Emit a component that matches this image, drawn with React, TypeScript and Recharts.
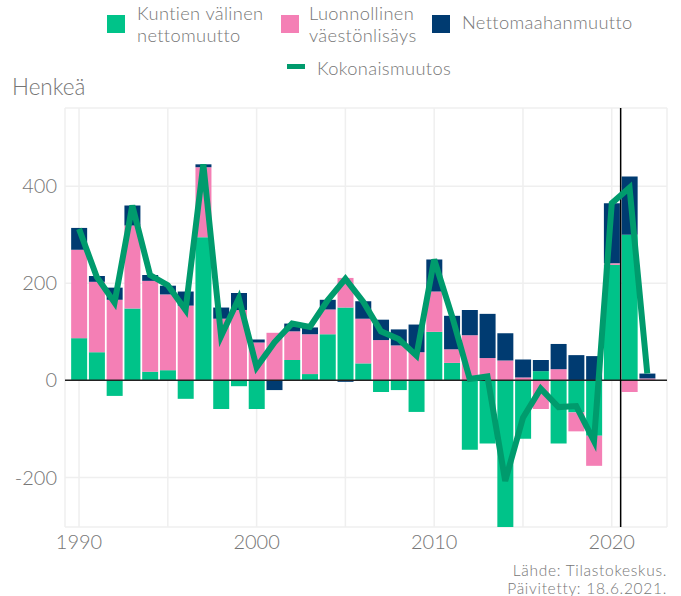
import React from 'react';
import {
  ComposedChart, Bar, Line, XAxis, YAxis, CartesianGrid, ReferenceLine,
} from 'recharts';

const years = [1990, 1991, 1992, 1993, 1994, 1995, 1996, 1997, 1998, 1999, 2000, 2001, 2002, 2003, 2004, 2005, 2006, 2007, 2008, 2009, 2010, 2011, 2012, 2013, 2014, 2015, 2016, 2017, 2018, 2019, 2020, 2021, 2022];

const kuntienValinen = [87, 58, -32, 148, 18, 21, -38, 295, -59, -12, -59, 0, 42, 13, 95, 150, 35, -24, -20, -65, 100, 36, -143, -130, -305, -120, 19, -130, -66, -114, 238, 300, 1];

const luonnollinen = [182, 145, 166, 171, 187, 156, 154, 144, 127, 145, 78, 98, 59, 82, 51, 61, 92, 83, 72, 58, 83, 28, 93, 46, 41, 6, -59, 23, -39, -62, 3, -24, 3];

const nettomaahanmuutto = [45, 12, 25, 41, 12, 18, 29, 6, 23, 35, 6, -20, 16, 14, 20, -3, 36, 42, 33, 57, 66, 69, 52, 91, 56, 37, 23, 52, 52, 50, 124, 120, 10];

const kokonaismuutos = [312, 213, 160, 360, 217, 196, 145, 445, 91, 169, 27, 78, 117, 110, 165, 209, 162, 101, 85, 51, 249, 133, 3, 8, -207, -77, -17, -55, -53, -125, 365, 397, 14];

const xTicks = [1990, 1995, 2000, 2005, 2010, 2015, 2020];
const yTicks = [-200, 0, 200, 400];

const legendItems = [
  { label: ['Kuntien välinen', 'nettomuutto'], color: '#00c389' },
  { label: ['Luonnollinen', 'väestönlisäys'], color: '#f47fb5' },
  { label: ['Nettomaahanmuutto'], color: '#003b71' },
];

const data = years.map((year, i) => ({
  year,
  kunt: kuntienValinen[i],
  luonn: luonnollinen[i],
  netto: nettomaahanmuutto[i],
  total: kokonaismuutos[i],
}));

const FONT = 'Lato, "Open Sans", sans-serif';
const GRAY = '#767676';

const legText: React.CSSProperties = {
  position: 'absolute', fontSize: 18.3, lineHeight: '22px', letterSpacing: '0.35px',
  color: GRAY, fontWeight: 300, whiteSpace: 'nowrap',
};
const srcText: React.CSSProperties = {
  position: 'absolute', right: 14, fontSize: 15.5, lineHeight: '18.6px', letterSpacing: '0.7px',
  color: GRAY, fontWeight: 300, textAlign: 'right', whiteSpace: 'nowrap',
};

export default function App() {
  return (
    <div style={{ position: 'absolute', left: 0, top: 0, width: 681, height: 596, background: '#fff', fontFamily: FONT, overflow: 'hidden' }}>
      <ComposedChart
        width={681}
        height={596}
        data={data}
        stackOffset="sign"
        margin={{ top: 108, right: 14, bottom: 39, left: 5 }}
      >
        <CartesianGrid stroke="#efefef" strokeWidth={1.5} />
        <XAxis
          dataKey="year"
          type="number"
          domain={[1989.21, 2023.11]}
          allowDataOverflow
          ticks={xTicks}
          tickFormatter={(v: number) => (v % 10 === 0 ? String(v) : '')}
          axisLine={false}
          tickLine={false}
          height={30}
          tick={{ fill: GRAY, fontSize: 20, fontFamily: FONT, fontWeight: 300 }}
        />
        <YAxis
          type="number"
          domain={[-302, 561]}
          allowDataOverflow
          ticks={yTicks}
          axisLine={false}
          tickLine={false}
          width={60}
          tick={{ fill: GRAY, fontSize: 20, fontFamily: FONT, fontWeight: 300 }}
        />
        <Bar dataKey="kunt" stackId="s" fill="#00c389" barSize={16} isAnimationActive={false} />
        <Bar dataKey="luonn" stackId="s" fill="#f47fb5" barSize={16} isAnimationActive={false} />
        <Bar dataKey="netto" stackId="s" fill="#003b71" barSize={16} isAnimationActive={false} />
        <ReferenceLine y={0} stroke="#222" strokeWidth={1.5} />
        <ReferenceLine x={2020.5} stroke="#000" strokeWidth={1.5} />
        <Line dataKey="total" type="linear" stroke="#009b6d" strokeWidth={6} dot={false} isAnimationActive={false} />
      </ComposedChart>

      {/* Legend */}
      <div style={{ position: 'absolute', left: 107, top: 15, width: 18, height: 18, background: legendItems[0].color }} />
      <div style={{ ...legText, left: 137, top: 2 }}>
        {legendItems[0].label[0]}<br />{legendItems[0].label[1]}
      </div>
      <div style={{ position: 'absolute', left: 281, top: 15, width: 18, height: 18, background: legendItems[1].color }} />
      <div style={{ ...legText, left: 309, top: 2 }}>
        {legendItems[1].label[0]}<br />{legendItems[1].label[1]}
      </div>
      <div style={{ position: 'absolute', left: 432, top: 15, width: 18, height: 18, background: legendItems[2].color }} />
      <div style={{ ...legText, left: 462, top: 11 }}>
        {legendItems[2].label[0]}
      </div>
      <div style={{ position: 'absolute', left: 287, top: 64, width: 18, height: 5, background: '#009b6d' }} />
      <div style={{ ...legText, left: 317, top: 57 }}>
        Kokonaismuutos
      </div>

      {/* Axis title */}
      <div style={{ position: 'absolute', left: 12, top: 75, fontSize: 22.5, lineHeight: '24px', color: GRAY, fontWeight: 300, whiteSpace: 'nowrap' }}>
        Henkeä
      </div>

      {/* Source */}
      <div style={{ ...srcText, top: 560.7 }}>
        Lähde: Tilastokeskus.
      </div>
      <div style={{ ...srcText, top: 579.3 }}>
        Päivitetty: 18.6.2021.
      </div>
    </div>
  );
}
